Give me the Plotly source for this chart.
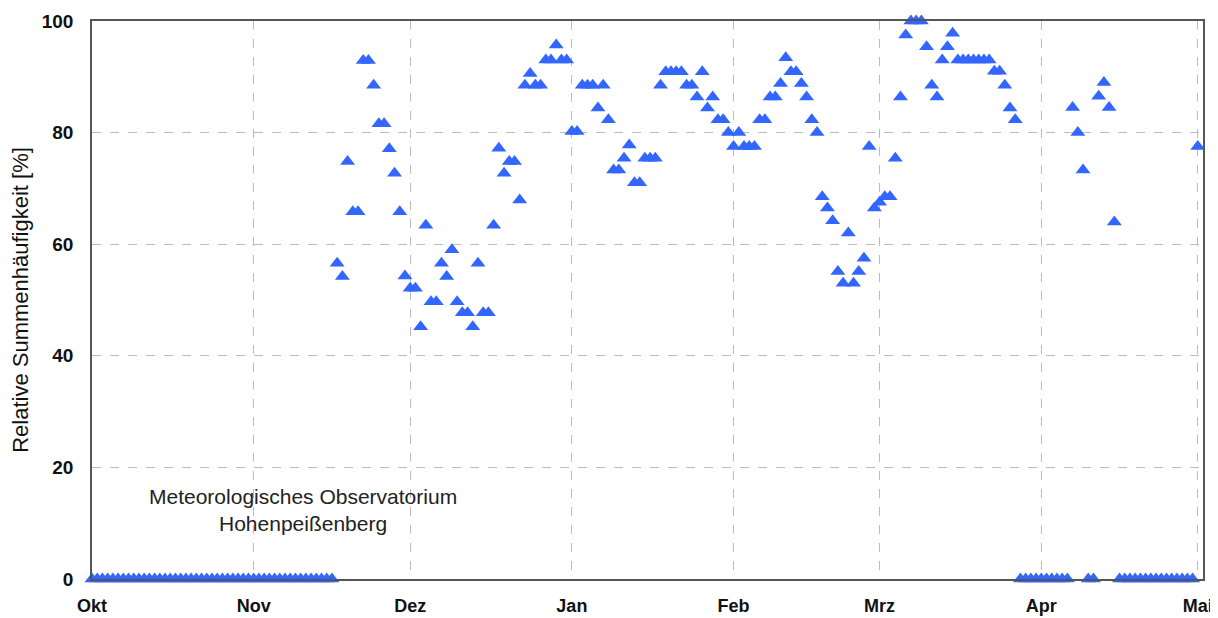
import plotly.graph_objects as go

# Month tick positions (day index counted from 1 Oct) and labels
month_labels = ["Okt", "Nov", "Dez", "Jan", "Feb", "Mrz", "Apr", "Mai"]
month_start_day = [0, 31, 61, 92, 123, 151, 182, 212]

# Relative Summenhäufigkeit [%] per day
okt = [0] * 31
nov = [0, 0, 0, 0, 0, 0, 0, 0, 0, 0, 0, 0, 0, 0, 0, 0,
       56.6, 54.2, 74.8, 65.8, 65.8, 92.9, 92.9, 88.5, 81.6, 81.6,
       77.1, 72.7, 65.8, 54.3]
dez = [52.1, 52.1, 45.2, 63.4, 49.7, 49.7, 56.6, 54.2, 59.0, 49.7,
       47.7, 47.7, 45.2, 56.6, 47.7, 47.7, 63.4, 77.2, 72.7, 74.8,
       74.8, 67.9, 88.5, 90.6, 88.5, 88.5, 93.0, 93.0, 95.7, 93.0, 93.0]
jan = [80.2, 80.2, 88.5, 88.5, 88.5, 84.4, 88.5, 82.3, 73.3, 73.3,
       75.4, 77.8, 71.0, 71.0, 75.4, 75.4, 75.4, 88.5, 90.9, 90.9,
       90.9, 90.9, 88.5, 88.5, 86.4, 90.9, 84.4, 86.4, 82.3, 82.3, 80.0]
feb = [77.5, 80.0, 77.5, 77.5, 77.5, 82.3, 82.3, 86.4, 86.4, 88.8,
       93.4, 90.9, 90.9, 88.8, 86.4, 82.3, 80.0, 68.5, 66.5, 64.2,
       55.1, 53.0, 62.0, 53.0, 55.1, 57.5, 77.5, 66.5]
mrz = [67.5, 68.5, 68.5, 75.4, 86.4, 97.5, 100, 100, 100, 95.4,
       88.5, 86.4, 93.0, 95.4, 97.8, 93.0, 93.0, 93.0, 93.0, 93.0,
       93.0, 93.0, 91.0, 91.0, 88.5, 84.4, 82.3, 0, 0, 0, 0]
apr = [0, 0, 0, 0, 0, 0, 84.5, 80.0, 73.3, 0, 0, 86.5, 89.0, 84.5, 64.0,
       0, 0, 0, 0, 0, 0, 0, 0, 0, 0, 0, 0, 0, 0, 0]
mai = [77.5]

values = okt + nov + dez + jan + feb + mrz + apr + mai
days = list(range(len(values)))

station_text = "Meteorologisches Observatorium<br>Hohenpeißenberg"

font_family = "Liberation Sans, Arial, sans-serif"

fig = go.Figure()
fig.add_trace(go.Scatter(
    x=days, y=values, mode="markers",
    marker=dict(symbol="triangle-up", size=13, color="#3366FF",
                line=dict(width=0)),
    cliponaxis=False, showlegend=False,
))

fig.add_annotation(
    x=40.5, y=12.45, xref="x", yref="y", text=station_text,
    showarrow=False, align="center", xanchor="center", yanchor="middle",
    font=dict(family=font_family, size=21, color="#222222"),
)

# the page body adds an 8 px offset, so the figure is 8 px smaller
fig.update_layout(
    width=1210, height=610,
    margin=dict(l=84, r=15, t=13, b=39),
    paper_bgcolor="white", plot_bgcolor="white",
    font=dict(family=font_family, color="#111111"),
)
fig.update_xaxes(
    range=[0, 213], tickmode="array",
    tickvals=month_start_day, ticktext=["<b>%s</b>" % m for m in month_labels],
    tickfont=dict(size=18, color="#111111"),
    showgrid=True, gridcolor="#BBBBBB", griddash="dash", gridwidth=1,
    showline=True, linecolor="#555555", linewidth=1.5, mirror=True,
    ticks="", ticklabelstandoff=10, zeroline=False, automargin=False,
)
fig.update_yaxes(
    range=[0, 100], tickmode="array", tickvals=[0, 20, 40, 60, 80, 100],
    ticktext=["<b>%d</b>" % v for v in [0, 20, 40, 60, 80, 100]],
    tickfont=dict(size=19, color="#111111"),
    showgrid=True, gridcolor="#BBBBBB", griddash="dash", gridwidth=1,
    showline=True, linecolor="#555555", linewidth=1.5, mirror=True,
    ticks="", ticklabelstandoff=13, zeroline=False, automargin=False,
    title=dict(text="Relative Summenhäufigkeit [%]",
               font=dict(family=font_family, size=22, color="#111111"),
               standoff=10),
)

fig.write_html("out.html")
